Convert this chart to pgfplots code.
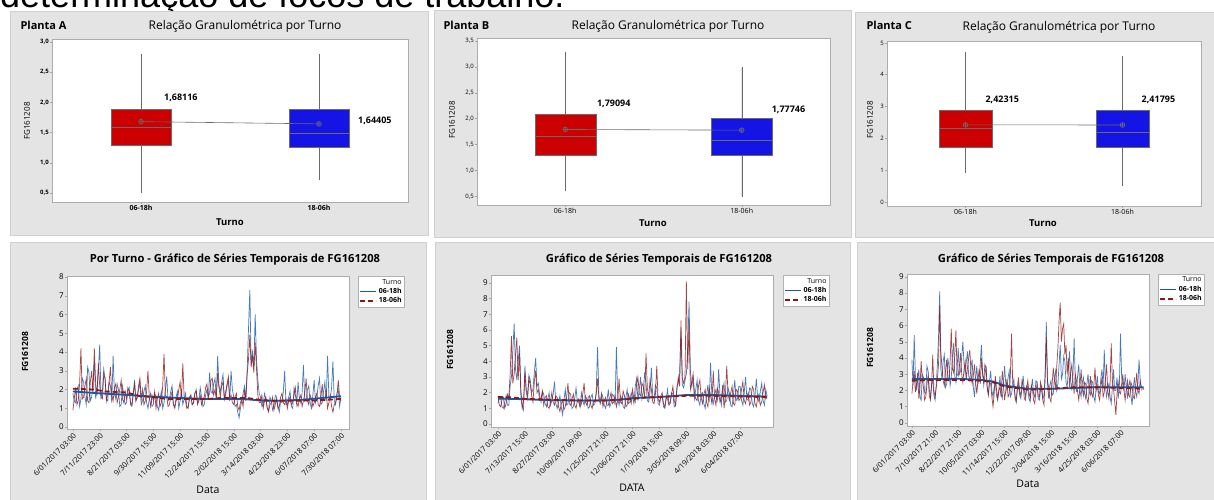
\documentclass[border=0pt]{standalone}
\usepackage{pgfplots}
\pgfplotsset{compat=1.18}
\usepackage{pgfplotstable}
\usepgfplotslibrary{statistics}
\usepackage{fontspec}
\setmainfont{Open Sans}
\newfontfamily\arialf{Liberation Sans}
\newcommand\fs[1]{\fontsize{#1}{#1}\selectfont}
\definecolor{panel}{HTML}{E4E4E4}
\definecolor{panelborder}{HTML}{D0D0D0}
\definecolor{boxred}{HTML}{CC0000}
\definecolor{boxblue}{HTML}{1414E4}
\definecolor{mgray}{HTML}{6A6A6A}
\definecolor{sblue}{HTML}{1858A8}
\definecolor{sred}{HTML}{8E1616}

\pgfplotsset{
  mtb/.style={scale only axis, anchor=south west,
    axis background/.style={fill=white},
    axis line style={draw=gray!65},
    tick align=outside, xtick pos=bottom, ytick pos=left,
    major tick length=2pt, tick style={gray!70, line width=0.4pt},
    /pgf/number format/assume math mode=true,
    tick label style={inner sep=1pt}},
  topbox/.style={mtb, xmin=0.5, xmax=2.5, xtick={1,2}, xticklabels={06-18h,18-06h},
    yticklabel style={font=\fs{6}},
    xticklabel style={font=\fs{7}},
    boxplot/draw direction=y},
  ts/.style={mtb, xticklabel style={rotate=45, anchor=north east, font=\fs{7.5}},
    yticklabel style={font=\fs{8}},
    legend style={anchor=north west, draw=gray!60, fill=white, font=\fs{7},
      inner sep=1pt, row sep=-1.5pt, outer sep=0pt},
    legend cell align=right,
    legend image code/.code={\draw[##1] (0pt,0pt) -- (16pt,0pt);}},
  sb/.style={sblue, line width=0.7pt, opacity=0.8, forget plot},
  sr/.style={sred, line width=0.7pt, opacity=0.8, forget plot},
  tb/.style={sblue, line width=1.8pt},
  tr/.style={sred, line width=1.8pt, dash pattern=on 5pt off 3pt},
}

% ---------- time series data (index based, step 0.05) ----------
\pgfplotstableread[row sep=\\]{v\\
1.8\\1.4\\1.3\\2.0\\2.2\\1.1\\1.5\\2.6\\2.4\\1.6\\1.2\\3.2\\2.9\\1.4\\1.6\\2.5\\3.5\\1.5\\2.0\\3.0\\
4.4\\1.6\\1.9\\3.1\\2.6\\1.5\\1.4\\2.4\\2.2\\1.3\\3.8\\1.8\\1.5\\2.3\\2.0\\1.1\\1.2\\2.2\\1.7\\1.2\\
1.3\\1.9\\2.1\\1.2\\1.1\\1.7\\2.5\\1.4\\1.6\\2.0\\2.4\\1.2\\1.4\\1.9\\2.2\\1.3\\1.0\\1.5\\1.8\\1.1\\
1.2\\1.8\\1.6\\1.1\\0.9\\1.5\\1.9\\1.0\\1.3\\2.0\\2.7\\1.4\\1.5\\1.9\\2.2\\1.2\\1.1\\1.6\\1.9\\1.0\\
1.4\\1.9\\1.2\\1.5\\1.8\\1.1\\1.0\\1.6\\1.7\\1.2\\1.3\\1.8\\2.0\\1.3\\1.5\\2.1\\1.6\\1.1\\1.2\\1.7\\
2.0\\1.5\\2.9\\1.9\\1.8\\2.3\\2.6\\1.6\\3.8\\2.2\\1.9\\2.4\\2.8\\1.5\\1.7\\2.2\\2.5\\1.4\\3.0\\2.0\\
1.6\\1.1\\1.2\\0.8\\0.5\\1.0\\1.4\\1.8\\2.2\\1.5\\3.0\\5.2\\7.3\\3.4\\4.0\\3.2\\6.0\\3.6\\2.5\\1.8\\
1.6\\1.1\\1.2\\1.8\\1.5\\1.0\\0.9\\1.6\\1.4\\0.9\\1.1\\1.7\\1.6\\1.1\\0.8\\1.4\\1.3\\1.9\\3.0\\1.2\\
1.2\\1.6\\1.9\\1.1\\1.0\\2.1\\1.7\\1.2\\2.4\\1.5\\1.3\\1.8\\3.3\\1.4\\1.5\\2.0\\2.2\\1.3\\1.0\\1.7\\
2.5\\1.3\\1.6\\2.2\\2.6\\1.2\\1.3\\1.9\\2.4\\1.4\\3.8\\1.6\\1.5\\2.1\\3.5\\1.4\\1.2\\1.8\\2.0\\1.1\\1.6\\
}\blueA
\pgfplotstableread[row sep=\\]{v\\
0.9\\1.5\\2.1\\1.2\\1.4\\2.3\\4.2\\1.5\\1.6\\2.2\\2.6\\1.4\\1.3\\2.4\\3.0\\1.8\\4.2\\2.3\\1.7\\3.4\\
2.2\\1.6\\1.5\\2.8\\2.6\\1.4\\1.8\\2.4\\3.2\\1.7\\1.4\\2.1\\2.3\\1.3\\1.6\\2.0\\2.5\\1.5\\1.3\\1.9\\
1.5\\2.1\\1.9\\1.3\\1.2\\1.8\\2.3\\1.4\\1.6\\2.2\\2.6\\1.5\\2.0\\1.2\\1.4\\1.9\\3.0\\1.6\\1.1\\1.7\\
1.4\\1.9\\1.0\\1.5\\1.8\\1.1\\1.3\\2.2\\3.9\\1.7\\1.6\\1.1\\1.2\\1.6\\1.9\\1.2\\1.0\\1.4\\1.5\\2.0\\
2.4\\1.5\\3.4\\1.6\\1.4\\1.0\\1.1\\1.5\\1.7\\1.2\\1.3\\1.8\\1.9\\1.2\\1.4\\1.7\\1.2\\1.5\\1.6\\2.1\\
2.3\\1.6\\1.8\\2.5\\2.6\\1.7\\2.0\\1.5\\2.9\\2.1\\1.6\\2.2\\2.4\\1.5\\1.9\\2.3\\2.7\\1.5\\1.7\\1.3\\
1.2\\1.6\\1.8\\1.1\\0.9\\1.3\\1.5\\1.1\\2.0\\1.4\\2.8\\3.6\\4.9\\3.2\\3.8\\2.9\\4.5\\3.1\\1.7\\1.3\\
1.3\\1.7\\1.0\\1.4\\1.6\\1.0\\0.8\\1.2\\1.3\\1.6\\0.9\\1.2\\1.5\\1.0\\1.1\\1.6\\1.8\\1.3\\1.2\\1.5\\
1.0\\1.4\\1.6\\1.2\\1.3\\1.7\\2.1\\1.3\\1.1\\1.5\\1.7\\1.1\\1.4\\1.8\\2.6\\1.4\\1.2\\1.7\\1.5\\1.1\\
1.3\\1.6\\1.8\\1.2\\1.1\\1.5\\2.3\\1.4\\1.4\\1.9\\1.0\\1.3\\1.7\\1.1\\0.8\\1.2\\1.3\\1.7\\2.5\\1.6\\1.4\\
}\redA
\pgfplotstableread[row sep=\\]{v\\
1.3\\1.7\\1.6\\1.1\\1.0\\1.4\\1.8\\1.2\\1.2\\2.4\\3.0\\4.6\\6.4\\3.5\\2.8\\4.0\\5.0\\2.2\\1.2\\0.9\\
3.7\\2.2\\1.9\\3.1\\2.8\\2.0\\2.2\\3.3\\4.2\\2.4\\2.6\\1.8\\1.4\\2.1\\1.9\\1.3\\1.1\\1.6\\2.0\\1.2\\
1.5\\1.9\\2.7\\1.3\\1.0\\1.4\\1.8\\1.1\\0.6\\1.5\\2.2\\1.2\\1.3\\2.0\\1.9\\1.0\\1.1\\1.6\\2.3\\1.4\\
1.4\\1.1\\2.0\\1.5\\1.2\\1.8\\1.6\\1.0\\1.1\\1.7\\1.9\\1.2\\1.3\\2.1\\4.9\\1.8\\1.4\\2.0\\1.7\\1.2\\
1.0\\1.5\\2.2\\1.1\\1.3\\1.9\\1.8\\1.2\\4.9\\1.6\\1.2\\1.8\\1.6\\1.1\\1.0\\1.7\\2.2\\1.3\\1.4\\2.0\\
1.7\\1.3\\2.4\\2.9\\1.5\\2.2\\3.0\\1.6\\2.1\\3.3\\2.6\\1.5\\1.4\\2.0\\3.6\\1.8\\1.6\\2.5\\2.3\\1.3\\
1.2\\1.7\\1.8\\1.1\\1.0\\1.6\\2.2\\1.3\\1.4\\2.0\\1.9\\1.1\\1.2\\2.4\\2.6\\3.2\\5.9\\2.5\\2.3\\2.8\\
3.2\\4.8\\7.8\\3.4\\2.4\\2.9\\1.6\\2.2\\2.8\\1.5\\1.2\\1.9\\2.0\\1.3\\1.0\\1.8\\2.5\\1.4\\3.9\\1.7\\
1.3\\1.9\\2.2\\1.4\\3.5\\1.8\\1.2\\2.1\\2.6\\1.4\\1.5\\2.3\\2.0\\1.2\\1.1\\1.9\\2.8\\1.5\\1.6\\2.4\\
2.4\\1.5\\1.2\\2.0\\3.0\\1.6\\1.5\\2.3\\2.2\\1.3\\1.1\\1.8\\2.9\\1.7\\1.4\\2.1\\2.6\\1.5\\1.2\\2.2\\1.8\\
}\blueB
\pgfplotstableread[row sep=\\]{v\\
1.8\\1.2\\1.1\\1.6\\1.7\\1.0\\1.3\\1.9\\1.6\\3.1\\5.6\\2.6\\3.2\\4.4\\5.5\\2.8\\4.5\\1.8\\1.0\\1.5\\
3.3\\2.0\\1.6\\2.9\\2.5\\1.8\\1.4\\2.7\\3.4\\2.0\\2.2\\1.5\\1.6\\2.1\\1.2\\1.7\\1.8\\1.1\\1.0\\1.4\\
2.0\\1.4\\1.2\\1.8\\1.7\\1.1\\0.8\\1.3\\1.5\\0.9\\1.1\\1.7\\2.6\\1.3\\1.2\\1.6\\1.9\\1.2\\1.0\\1.5\\
1.6\\1.1\\1.3\\1.9\\2.6\\1.4\\1.2\\1.7\\1.8\\1.2\\1.0\\1.5\\1.4\\1.9\\2.9\\1.6\\1.3\\1.8\\1.1\\1.5\\
1.7\\1.2\\1.2\\1.6\\2.0\\1.3\\1.4\\1.8\\1.1\\1.5\\2.9\\1.4\\1.3\\2.1\\1.8\\1.1\\1.2\\1.9\\1.6\\1.3\\
2.2\\1.6\\1.4\\2.5\\3.0\\1.9\\1.8\\2.6\\2.4\\1.6\\4.5\\2.3\\1.7\\2.8\\2.2\\1.4\\1.3\\1.9\\3.7\\1.6\\
1.4\\1.8\\2.0\\1.3\\1.1\\1.7\\1.6\\1.2\\1.3\\1.9\\2.4\\1.5\\1.2\\2.2\\3.0\\2.4\\6.6\\2.9\\2.6\\3.0\\
9.1\\3.5\\6.3\\2.2\\2.6\\3.2\\2.0\\1.6\\1.5\\2.4\\2.8\\1.7\\1.3\\1.9\\2.2\\1.4\\1.1\\2.3\\1.8\\1.3\\
3.4\\1.6\\1.2\\2.3\\2.0\\1.4\\1.6\\2.5\\1.0\\1.8\\3.7\\1.9\\1.5\\2.0\\2.4\\1.3\\1.2\\2.2\\2.1\\1.5\\
1.6\\2.2\\2.7\\1.5\\1.3\\1.8\\2.0\\1.2\\1.4\\2.4\\2.2\\1.3\\1.1\\1.7\\1.9\\1.2\\1.4\\2.0\\2.5\\1.6\\1.7\\
}\redB
\pgfplotstableread[row sep=\\]{v\\
3.9\\2.3\\5.4\\3.0\\2.0\\2.6\\3.3\\1.6\\1.4\\3.0\\2.8\\1.9\\1.8\\3.5\\3.2\\2.1\\1.5\\2.4\\2.6\\1.7\\
1.4\\2.3\\3.6\\5.3\\8.1\\3.3\\2.7\\3.8\\4.2\\2.2\\2.4\\4.0\\3.5\\2.3\\2.8\\4.1\\4.9\\2.9\\2.5\\3.4\\
4.6\\3.0\\3.2\\4.1\\5.0\\3.6\\3.0\\3.8\\4.4\\2.9\\2.6\\3.4\\3.9\\2.2\\1.6\\2.7\\3.5\\2.4\\2.8\\3.7\\
4.8\\3.1\\2.3\\2.9\\3.5\\2.1\\1.8\\2.6\\3.2\\2.0\\1.6\\2.2\\2.5\\1.7\\1.4\\2.0\\2.9\\1.8\\1.5\\2.4\\
3.5\\2.4\\2.0\\2.8\\3.2\\1.6\\1.8\\2.3\\2.7\\1.5\\1.3\\2.0\\2.4\\1.7\\1.5\\2.2\\2.9\\2.0\\1.6\\2.3\\
2.2\\1.5\\1.3\\2.1\\2.7\\1.8\\1.6\\2.6\\2.5\\1.5\\1.4\\2.0\\2.3\\1.5\\1.7\\3.1\\6.2\\2.4\\1.5\\2.3\\
2.6\\1.7\\1.8\\2.8\\3.2\\2.0\\2.4\\3.6\\4.8\\2.7\\3.0\\4.1\\3.8\\2.5\\2.2\\3.3\\4.4\\2.6\\2.0\\3.0\\
5.2\\2.6\\1.9\\2.9\\3.6\\2.0\\1.6\\2.5\\2.8\\1.8\\1.5\\2.4\\3.0\\1.9\\1.7\\2.6\\2.5\\1.6\\1.3\\2.2\\
2.9\\1.9\\1.8\\2.7\\3.3\\2.2\\4.5\\2.3\\1.6\\2.1\\2.4\\1.6\\1.2\\2.2\\3.3\\2.0\\2.0\\2.8\\1.5\\2.2\\
5.5\\2.8\\2.3\\2.0\\3.0\\2.2\\1.5\\2.3\\2.6\\1.7\\1.1\\2.1\\2.8\\1.9\\1.6\\2.4\\3.9\\2.6\\2.0\\
}\blueC
\pgfplotstableread[row sep=\\]{v\\
1.8\\2.5\\3.2\\1.9\\2.4\\3.1\\1.5\\2.2\\3.8\\2.6\\2.2\\1.4\\1.6\\2.4\\2.9\\1.7\\1.4\\2.3\\4.2\\2.0\\
1.6\\2.2\\2.7\\3.6\\7.2\\4.4\\3.4\\2.6\\2.3\\3.2\\3.9\\2.8\\2.6\\3.8\\5.8\\3.3\\3.1\\4.2\\5.7\\3.0\\
2.9\\3.5\\4.3\\3.0\\2.5\\3.3\\3.8\\2.7\\3.4\\4.0\\4.5\\3.1\\2.4\\2.9\\3.6\\2.5\\1.8\\2.6\\3.3\\2.4\\
4.0\\3.0\\2.6\\3.6\\3.4\\2.2\\1.7\\2.5\\2.4\\1.6\\1.0\\1.8\\2.9\\2.1\\1.5\\2.0\\2.2\\1.6\\3.2\\2.4\\
1.4\\2.0\\2.7\\1.6\\1.8\\3.0\\5.5\\2.4\\2.3\\1.7\\1.3\\2.2\\2.8\\1.9\\1.7\\2.6\\2.3\\1.5\\1.4\\2.1\\
2.6\\1.9\\1.5\\2.3\\2.1\\1.4\\1.2\\1.9\\2.4\\1.6\\1.6\\2.5\\2.0\\1.4\\1.1\\2.8\\5.3\\2.6\\2.2\\1.5\\
1.3\\2.4\\3.4\\2.6\\2.2\\3.5\\4.6\\6.3\\7.4\\5.0\\5.8\\6.1\\4.2\\4.8\\3.0\\4.0\\2.2\\3.1\\3.6\\2.5\\
1.8\\3.0\\2.6\\1.9\\1.4\\2.2\\3.3\\2.1\\1.7\\2.5\\2.4\\1.5\\1.2\\2.0\\2.9\\1.8\\1.6\\2.3\\3.4\\2.0\\
2.3\\1.7\\1.4\\2.2\\2.8\\1.6\\1.9\\2.7\\3.6\\2.0\\1.5\\2.4\\4.9\\2.6\\2.1\\1.3\\0.5\\1.8\\2.5\\1.9\\
1.8\\2.4\\3.0\\2.0\\1.4\\2.1\\2.6\\1.7\\1.6\\2.5\\2.3\\1.6\\1.5\\2.2\\3.1\\2.0\\1.8\\2.6\\2.2\\
}\redC

\begin{document}
\begin{tikzpicture}[x=1pt,y=1pt]
\fill[white] (0,0) rectangle (1214,499);
\useasboundingbox (0,0) rectangle (1214,499);
\begin{scope}
\clip (0,0) rectangle (1214,499);
\node[anchor=base west, inner sep=0, font=\arialf\fs{36}] at (0,491) {determinação de focos de trabalho.};
% panels
\filldraw[fill=panel, draw=panelborder] (10,264) rectangle (428,488);
\filldraw[fill=panel, draw=panelborder] (434,262) rectangle (851,489);
\filldraw[fill=panel, draw=panelborder] (855,262) rectangle (1222,487);
\filldraw[fill=panel, draw=panelborder] (10,-5) rectangle (426,257);
\filldraw[fill=panel, draw=panelborder] (435,-5) rectangle (850,257);
\filldraw[fill=panel, draw=panelborder] (857,-5) rectangle (1222,257);
\end{scope}

% ================= TOP A =================
\node[anchor=west, font=\bfseries\fs{11}] at (17,474) {Planta A};
\node[font=\fs{12}] at (245,473) {Relação Granulométrica por Turno};
\node[rotate=90, font=\fs{8}] at (27,378) {FG161208};
\node[font=\bfseries\fs{9.5}] at (230,277) {Turno};
\begin{axis}[topbox, at={(52pt,297pt)}, width=356pt, height=163pt,
  ymin=0.35, ymax=3.05, ytick={0.5,1,1.5,2,2.5,3},
  yticklabel style={font=\bfseries\fs{6}, /pgf/number format/.cd, use comma, fixed, fixed zerofill, precision=1},
  xticklabel style={font=\bfseries\fs{7}}]
\addplot[fill=boxred, draw=mgray, boxplot prepared={lower whisker=0.5, lower quartile=1.29, median=1.59, upper quartile=1.89, upper whisker=2.8, draw position=1, box extend=0.34, whisker extend=0}] coordinates {};
\addplot[fill=boxblue, draw=mgray, boxplot prepared={lower whisker=0.72, lower quartile=1.26, median=1.49, upper quartile=1.89, upper whisker=2.8, draw position=2, box extend=0.34, whisker extend=0}] coordinates {};
\addplot[mgray, line width=0.6pt, mark=oplus, mark size=2.4pt] coordinates {(1,1.68116) (2,1.64405)};
\node[anchor=west, font=\bfseries\fs{9}] at (axis cs:1.11,2.07) {1,68116};
\node[anchor=west, font=\bfseries\fs{9}] at (axis cs:2.20,1.70) {1,64405};
\end{axis}

% ================= TOP B =================
\node[anchor=west, font=\bfseries\fs{11}] at (440,474) {Planta B};
\node[font=\fs{12}] at (668,473) {Relação Granulométrica por Turno};
\node[rotate=90, font=\fs{8}] at (452,379) {FG161208};
\node[font=\bfseries\fs{9.5}] at (653,276) {Turno};
\begin{axis}[topbox, at={(477pt,294pt)}, width=353pt, height=167pt,
  ymin=0.33, ymax=3.56, ytick={0.5,1,1.5,2,2.5,3,3.5},
  yticklabel style={/pgf/number format/.cd, use comma, fixed, fixed zerofill, precision=1}]
\addplot[fill=boxred, draw=mgray, boxplot prepared={lower whisker=0.60, lower quartile=1.29, median=1.66, upper quartile=2.09, upper whisker=3.29, draw position=1, box extend=0.345, whisker extend=0}] coordinates {};
\addplot[fill=boxblue, draw=mgray, boxplot prepared={lower whisker=0.49, lower quartile=1.29, median=1.585, upper quartile=2.0, upper whisker=2.99, draw position=2, box extend=0.345, whisker extend=0}] coordinates {};
\addplot[mgray, line width=0.6pt, mark=oplus, mark size=2.4pt] coordinates {(1,1.79094) (2,1.77746)};
\node[anchor=west, font=\bfseries\fs{9}] at (axis cs:1.16,2.28) {1,79094};
\node[anchor=west, font=\bfseries\fs{9}] at (axis cs:2.15,2.17) {1,77746};
\end{axis}

% ================= TOP C =================
\node[anchor=west, font=\bfseries\fs{11}] at (863,474) {Planta C};
\node[font=\fs{12}] at (1059,472) {Relação Granulométrica por Turno};
\node[rotate=90, font=\fs{8}] at (870,379) {FG161208};
\node[font=\bfseries\fs{9.5}] at (1043,276) {Turno};
\begin{axis}[topbox, at={(887pt,293pt)}, width=314pt, height=165pt,
  ymin=-0.13, ymax=5.06, ytick={0,1,2,3,4,5}]
\addplot[fill=boxred, draw=mgray, boxplot prepared={lower whisker=0.90, lower quartile=1.72, median=2.32, upper quartile=2.89, upper whisker=4.71, draw position=1, box extend=0.34, whisker extend=0}] coordinates {};
\addplot[fill=boxblue, draw=mgray, boxplot prepared={lower whisker=0.50, lower quartile=1.72, median=2.19, upper quartile=2.89, upper whisker=4.59, draw position=2, box extend=0.34, whisker extend=0}] coordinates {};
\addplot[mgray, line width=0.6pt, mark=oplus, mark size=2.4pt] coordinates {(1,2.42315) (2,2.41795)};
\node[anchor=west, font=\bfseries\fs{9}] at (axis cs:1.105,3.2) {2,42315};
\node[anchor=west, font=\bfseries\fs{9}] at (axis cs:2.10,3.2) {2,41795};
\end{axis}

% ================= BOTTOM A =================
\node[font=\bfseries\fs{11.2}] at (235,239) {Por Turno - Gráfico de Séries Temporais de FG161208};
\node[rotate=90, font=\bfseries\fs{8.5}] at (25,147) {FG161208};
\node[font=\fs{10.5}] at (208,9) {Data};
\begin{axis}[ts, at={(67pt,70pt)}, width=282pt, height=153pt,
  xmin=-0.22, xmax=10.3, ymin=-0.1, ymax=8.05, ytick={0,1,...,8},
  xtick={0,1,...,10},
  xticklabels={6/01/2017 03:00,7/11/2017 23:00,8/21/2017 03:00,9/30/2017 15:00,11/09/2017 15:00,12/24/2017 15:00,2/02/2018 15:00,3/14/2018 03:00,4/23/2018 23:00,6/07/2018 07:00,7/30/2018 07:00},
  legend style={at={(1.032,1)}}]
\addplot[sb] table[x expr=\coordindex*0.05, y=v] {\blueA};
\addplot[sr] table[x expr=\coordindex*0.05, y=v] {\redA};
\addlegendimage{empty legend}\addlegendentry{Turno}
\addplot[tb] coordinates {(0,1.9)(1,1.8)(2,1.72)(3,1.62)(4,1.55)(5,1.5)(6,1.5)(6.5,1.48)(7,1.42)(7.5,1.4)(8.5,1.45)(9.5,1.58)(10,1.65)};
\addlegendentry{\bfseries 06-18h}
\addplot[tr] coordinates {(0,2.05)(0.8,2.0)(1.2,1.9)(2,1.85)(2.5,1.65)(3,1.6)(3.5,1.5)(5,1.5)(5.5,1.55)(6.5,1.55)(7,1.45)(7.5,1.4)(9,1.42)(10,1.5)};
\addlegendentry{\bfseries 18-06h}
\end{axis}

% ================= BOTTOM B =================
\node[font=\bfseries\fs{11.2}] at (659,239) {Gráfico de Séries Temporais de FG161208};
\node[rotate=90, font=\bfseries\fs{8.5}] at (450,149) {FG161208};
\node[font=\fs{10.5}] at (632,11) {DATA};
\begin{axis}[ts, at={(491pt,72pt)}, width=282pt, height=152pt,
  xmin=-0.26, xmax=10.22, ymin=-0.19, ymax=9.5, ytick={0,1,...,9},
  xtick={0,1,...,9},
  xticklabels={6/01/2017 03:00,7/13/2017 15:00,8/27/2017 03:00,10/09/2017 09:00,11/25/2017 21:00,12/06/2017 21:00,1/19/2018 15:00,3/05/2018 09:00,4/19/2018 03:00,6/04/2018 07:00},
  legend style={at={(1.035,1)}}]
\addplot[sb] table[x expr=\coordindex*0.05, y=v] {\blueB};
\addplot[sr] table[x expr=\coordindex*0.05, y=v] {\redB};
\addlegendimage{empty legend}\addlegendentry{Turno}
\addplot[tb] coordinates {(0,1.62)(1,1.58)(2,1.52)(3,1.5)(4,1.5)(4.5,1.55)(5,1.65)(6,1.72)(7,1.85)(8,1.85)(9,1.8)(10,1.75)};
\addlegendentry{\bfseries 06-18h}
\addplot[tr] coordinates {(0,1.72)(0.5,1.7)(1,1.6)(2,1.55)(3,1.5)(4,1.5)(5,1.6)(5.5,1.7)(6,1.72)(7,1.8)(8,1.8)(9,1.75)(10,1.72)};
\addlegendentry{\bfseries 18-06h}
\end{axis}

% ================= BOTTOM C =================
\node[font=\bfseries\fs{11.2}] at (1051,239) {Gráfico de Séries Temporais de FG161208};
\node[rotate=90, font=\bfseries\fs{8.5}] at (870,151) {FG161208};
\node[font=\fs{10.5}] at (1028,15) {Data};
\begin{axis}[ts, at={(907pt,73pt)}, width=242pt, height=152pt,
  xmin=-0.21, xmax=10.23, ymin=-0.19, ymax=9.17, ytick={0,1,...,9},
  xtick={0,1,...,9},
  xticklabels={6/01/2017 03:00,7/10/2017 21:00,8/22/2017 21:00,10/05/2017 03:00,11/14/2017 15:00,12/22/2017 09:00,2/04/2018 15:00,3/16/2018 15:00,4/25/2018 03:00,6/06/2018 07:00},
  legend style={at={(1.037,1)}}]
\addplot[sb] table[x expr=\coordindex*0.05, y=v] {\blueC};
\addplot[sr] table[x expr=\coordindex*0.05, y=v] {\redC};
\addlegendimage{empty legend}\addlegendentry{Turno}
\addplot[tb] coordinates {(0,2.7)(1,2.7)(2,2.72)(3,2.65)(3.5,2.55)(4,2.3)(4.5,2.2)(5,2.1)(6,2.1)(7,2.15)(8,2.2)(9,2.2)(10,2.2)};
\addlegendentry{\bfseries 06-18h}
\addplot[tr] coordinates {(0,2.6)(1,2.65)(2,2.65)(3,2.6)(3.5,2.5)(4,2.25)(5,2.05)(6,2.1)(7,2.2)(8,2.2)(9,2.15)(10,2.1)};
\addlegendentry{\bfseries 18-06h}
\end{axis}
\end{tikzpicture}
\end{document}
